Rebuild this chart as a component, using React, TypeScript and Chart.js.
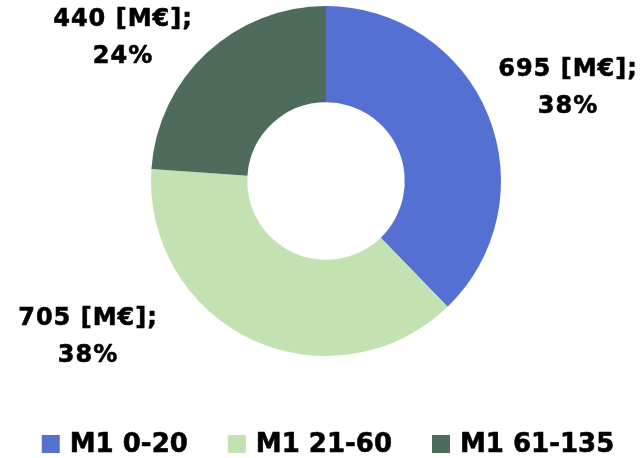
import React, { useEffect, useRef } from "react";
import { Chart, registerables } from "chart.js";

Chart.register(...registerables);

const categories = ["M1 0-20", "M1 21-60", "M1 61-135"];
const values = [695, 705, 440];
const percentLabels = ["38%", "38%", "24%"];
const unit = "[M€]";
const colors = ["#5470D2", "#C3E2B1", "#4E6C5C"];

// label centre offsets from the doughnut centre (layout only)
const labelOffsets = [
  { dx: 242, dy: -93 },
  { dx: -238, dy: 156 },
  { dx: -203, dy: -143 },
];

const FONT = "'DejaVu Sans', sans-serif";

function heavyText(ctx: CanvasRenderingContext2D, text: string, x: number, y: number) {
  ctx.fillText(text, x, y);
  ctx.strokeText(text, x, y);
}

const overlayPlugin = {
  id: "overlay",
  afterDraw(chart: any) {
    const ctx = chart.ctx as CanvasRenderingContext2D;
    const meta = chart.getDatasetMeta(0);
    const arc = meta.data[0];
    if (!arc) return;
    const cx = arc.x;
    const cy = arc.y;
    ctx.save();
    ctx.fillStyle = "#000";
    ctx.strokeStyle = "#000";
    ctx.lineWidth = 0.6;
    ctx.lineJoin = "round";
    ctx.textAlign = "center";
    ctx.textBaseline = "middle";
    ctx.font = `bold 24px ${FONT}`;
    (ctx as any).letterSpacing = "1px";
    values.forEach((v, i) => {
      const o = labelOffsets[i];
      heavyText(ctx, `${v} ${unit};`, cx + o.dx, cy + o.dy - 18.5);
      heavyText(ctx, percentLabels[i], cx + o.dx, cy + o.dy + 18.5);
    });
    (ctx as any).letterSpacing = "0px";
    // legend
    ctx.font = `bold 26px ${FONT}`;
    ctx.textAlign = "left";
    const box = 18;
    const gap = 10;
    const spacing = 40;
    const widths = categories.map((c) => ctx.measureText(c).width);
    const total =
      widths.reduce((a, b) => a + b, 0) + categories.length * (box + gap) + spacing * (categories.length - 1);
    let x = (chart.width - total) / 2 + 6;
    const y = 444;
    categories.forEach((c, i) => {
      ctx.fillStyle = colors[i];
      ctx.fillRect(x, y - box / 2, box, box);
      ctx.fillStyle = "#000";
      heavyText(ctx, c, x + box + gap, y + 1);
      x += box + gap + widths[i] + spacing;
    });
    ctx.restore();
  },
};

export default function App() {
  const ref = useRef<HTMLCanvasElement | null>(null);
  useEffect(() => {
    document.body.style.margin = "0";
    const canvas = ref.current;
    if (!canvas) return;
    const chart = new Chart(canvas, {
      type: "doughnut",
      data: {
        labels: categories,
        datasets: [
          {
            data: values,
            backgroundColor: colors,
            borderWidth: 0,
          },
        ],
      },
      options: {
        responsive: false,
        animation: false,
        cutout: "45%",
        layout: { padding: { top: 6, left: 8, right: 0, bottom: 102 } },
        plugins: {
          legend: { display: false },
          tooltip: { enabled: false },
        },
      },
      plugins: [overlayPlugin],
    });
    return () => chart.destroy();
  }, []);
  return (
    <div style={{ width: 644, height: 458, background: "#fff" }}>
      <canvas ref={ref} width={644} height={458} style={{ display: "block" }} />
    </div>
  );
}
